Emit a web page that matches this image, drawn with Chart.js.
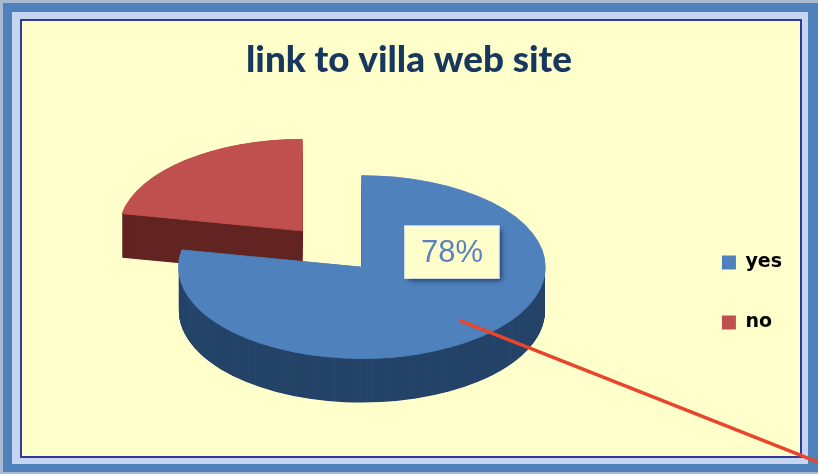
<!DOCTYPE html>
<html>
<head>
<meta charset="utf-8">
<style>
html,body{margin:0;padding:0;background:#fff;overflow:hidden}
#frame{position:absolute;left:0;top:0;width:818px;height:474px;box-sizing:border-box;background:#A9B9CF;padding:3px 0 2px 3px}
#blue{box-sizing:border-box;width:100%;height:100%;background:#4F81BD;padding:9px 10px 8px 9px}
#pale{box-sizing:border-box;width:100%;height:100%;background:#C6D6F1;padding:7px 6px 6px 8px}
#paper{box-sizing:border-box;width:100%;height:100%;background:#FFFFCC;border:2px solid #2F3A9C}
#wrap{position:absolute;left:0;top:0;width:818px;height:474px}
</style>
</head>
<body>
<div id="frame"><div id="blue"><div id="pale"><div id="paper"></div></div></div></div>
<div id="wrap"><canvas id="c" width="818" height="474"></canvas></div>
<script src="https://cdn.jsdelivr.net/npm/chart.js@4"></script>
<script>
const categories = ['yes', 'no'];
const values = [78, 22];
const topColors = ['#4F81BD', '#C0504D'];
const wallColors = ['#254469', '#632523'];
const titleText = 'link to villa web site';

const SQUASH = 0.5, DEPTH = 44, EXPLODE = [0, 94];

const pie3d = {
  id: 'pie3d',
  afterLayout(chart) {
    // keep the title centred on the whole canvas despite the uneven padding
    chart.titleBlock.left = chart.width - chart.titleBlock.right;
  },
  beforeDatasetDraw(chart, args) {
    const ctx = chart.ctx;
    const arcs = chart.getDatasetMeta(args.index).data;
    const {x: cx, y: cy} = arcs[0];
    const order = [1, 0];
    order.forEach(i => {
      const el = arcs[i];
      const mid = (el.startAngle + el.endAngle) / 2;
      const wall = Object.create(el);
      wall.options = Object.assign({}, el.options, {backgroundColor: wallColors[i]});
      const top = Object.create(el);
      top.options = Object.assign({}, el.options, {borderColor: topColors[i], borderWidth: 1.5, borderAlign: 'center'});
      ctx.save();
      ctx.translate(cx, cy);
      ctx.scale(1, SQUASH);
      ctx.translate(-cx, -cy);
      ctx.translate(Math.cos(mid) * EXPLODE[i], Math.sin(mid) * EXPLODE[i]);
      for (let d = DEPTH; d > 0; d -= 0.5) {
        ctx.save();
        ctx.translate(0, d / SQUASH);
        wall.draw(ctx);
        ctx.restore();
      }
      top.draw(ctx);
      ctx.restore();
    });
    return false;
  },
  afterDatasetsDraw(chart) {
    const ctx = chart.ctx;
    const {x: cx, y: cy} = chart.getDatasetMeta(0).data[0];
    const total = values.reduce((a, b) => a + b, 0);
    const label = Math.round(values[0] / total * 100) + '%';
    const lx = cx + 90, ly = cy - 15;
    ctx.save();
    ctx.shadowColor = 'rgba(15,35,70,0.75)';
    ctx.shadowBlur = 5;
    ctx.shadowOffsetX = 3;
    ctx.shadowOffsetY = 3;
    ctx.fillStyle = '#FFFFCC';
    ctx.fillRect(lx - 47, ly - 26, 94, 52);
    ctx.restore();
    ctx.save();
    ctx.strokeStyle = '#F4F8E8';
    ctx.lineWidth = 1.5;
    ctx.strokeRect(lx - 47, ly - 26, 94, 52);
    ctx.fillStyle = '#5B82BE';
    ctx.font = '31px "Liberation Sans"';
    ctx.textAlign = 'center';
    ctx.textBaseline = 'middle';
    ctx.fillText(label, lx, ly + 1);
    ctx.restore();
  },
  afterDraw(chart) {
    const ctx = chart.ctx;
    const {x: cx, y: cy} = chart.getDatasetMeta(0).data[0];
    ctx.save();
    ctx.strokeStyle = '#E8452A';
    ctx.lineWidth = 3.5;
    ctx.beginPath();
    ctx.moveTo(cx + 97, cy + 53);
    ctx.lineTo(chart.width, cy + 195);
    ctx.stroke();
    ctx.restore();
  }
};

new Chart(document.getElementById('c'), {
  type: 'pie',
  data: {
    labels: categories,
    datasets: [{data: values, backgroundColor: topColors, borderWidth: 0, radius: 183}]
  },
  plugins: [pie3d],
  options: {
    responsive: false,
    animation: false,
    layout: {padding: {left: 43, right: 26, top: 0, bottom: 101}},
    plugins: {
      tooltip: {enabled: false},
      title: {
        display: true,
        text: titleText,
        color: '#17375E',
        font: {family: 'Lato', size: 36.8, weight: '900', lineHeight: 1.2},
        padding: {top: 38, bottom: 79}
      },
      legend: {
        position: 'right',
        align: 'end',
        labels: {
          color: '#000',
          boxWidth: 14,
          boxHeight: 14,
          padding: 41,
          font: {family: 'DejaVu Sans', size: 19, weight: 'bold'}
        }
      }
    }
  }
});
</script>
</body>
</html>
